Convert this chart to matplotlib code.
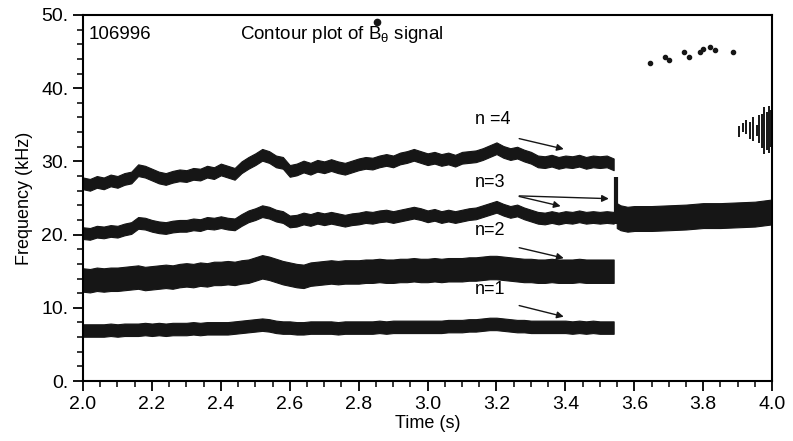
import numpy as np
import matplotlib
matplotlib.use("Agg")
import matplotlib.pyplot as plt
from matplotlib import font_manager
from matplotlib.ticker import MultipleLocator, FuncFormatter

t_band = [2.00, 2.02, 2.04, 2.06, 2.08, 2.10, 2.12, 2.14, 2.16, 2.18,
          2.20, 2.22, 2.24, 2.26, 2.28, 2.30, 2.32, 2.34, 2.36, 2.38,
          2.40, 2.42, 2.44, 2.46, 2.48, 2.50, 2.52, 2.54, 2.56, 2.58,
          2.60, 2.62, 2.64, 2.66, 2.68, 2.70, 2.72, 2.74, 2.76, 2.78,
          2.80, 2.82, 2.84, 2.86, 2.88, 2.90, 2.92, 2.94, 2.96, 2.98,
          3.00, 3.02, 3.04, 3.06, 3.08, 3.10, 3.12, 3.14, 3.16, 3.18,
          3.20, 3.22, 3.24, 3.26, 3.28, 3.30, 3.32, 3.34, 3.36, 3.38,
          3.40, 3.42, 3.44, 3.46, 3.48, 3.50, 3.52, 3.54]

f_n4 = [27.0, 26.8, 27.2, 27.0, 27.4, 27.2, 27.6, 27.8, 28.8, 28.6,
        28.2, 27.8, 27.6, 27.9, 28.1, 28.0, 28.3, 28.2, 28.6, 28.4,
        28.9, 28.6, 28.3, 29.2, 29.8, 30.3, 30.9, 30.6, 30.0, 29.8,
        28.7, 28.9, 29.3, 29.0, 29.4, 29.2, 29.5, 29.2, 29.0, 29.3,
        29.6, 29.8, 29.7, 30.0, 30.2, 30.0, 30.4, 30.6, 30.9, 30.6,
        30.3, 30.5, 30.2, 30.4, 30.1, 30.5, 30.6, 30.7, 31.0, 31.4,
        31.8, 31.3, 31.0, 31.2, 30.8, 30.5, 30.0, 29.9, 30.1, 29.8,
        30.0, 29.9, 30.1, 29.8, 30.0, 29.9, 30.0, 29.6]

f_n3 = [20.2, 20.1, 20.4, 20.3, 20.5, 20.4, 20.7, 20.9, 21.6, 21.5,
        21.2, 21.0, 20.9, 21.1, 21.2, 21.2, 21.4, 21.3, 21.6, 21.5,
        21.7, 21.5, 21.4, 22.0, 22.5, 22.8, 23.2, 23.0, 22.6, 22.4,
        21.8, 21.9, 22.2, 22.0, 22.3, 22.1, 22.3, 22.1, 21.9, 22.1,
        22.2, 22.4, 22.3, 22.5, 22.6, 22.4, 22.6, 22.8, 23.0, 22.8,
        22.5, 22.7, 22.4, 22.6, 22.4, 22.6, 22.8, 22.9, 23.2, 23.5,
        23.8, 23.4, 23.1, 23.3, 22.9, 22.6, 22.3, 22.2, 22.4, 22.2,
        22.4, 22.3, 22.5, 22.3, 22.4, 22.3, 22.4, 22.3]

f_n2 = [13.8, 13.7, 13.9, 13.8, 13.9, 13.9, 14.0, 14.1, 14.2, 14.0,
        14.1, 14.2, 14.3, 14.2, 14.4, 14.5, 14.4, 14.6, 14.5, 14.7,
        14.7, 14.8, 14.7, 14.9, 15.0, 15.3, 15.6, 15.4, 15.1, 14.8,
        14.6, 14.4, 14.3, 14.6, 14.7, 14.8, 14.9, 14.8, 14.9, 14.9,
        14.9, 15.0, 15.0, 15.1, 15.0, 15.0, 15.1, 15.1, 15.2, 15.1,
        15.1, 15.2, 15.1, 15.2, 15.2, 15.2, 15.3, 15.3, 15.4, 15.5,
        15.5, 15.4, 15.3, 15.2, 15.1, 15.1, 15.0, 15.0, 15.1, 15.0,
        15.0, 15.0, 15.1, 15.0, 15.0, 15.0, 15.0, 15.0]

f_n1 = [6.9, 6.9, 6.9, 6.9, 7.0, 6.9, 7.0, 7.0, 7.0, 7.1,
        7.0, 7.1, 7.0, 7.1, 7.1, 7.1, 7.2, 7.1, 7.2, 7.2,
        7.2, 7.2, 7.3, 7.4, 7.5, 7.6, 7.7, 7.6, 7.4, 7.3,
        7.3, 7.2, 7.2, 7.3, 7.3, 7.3, 7.3, 7.2, 7.3, 7.3,
        7.3, 7.3, 7.3, 7.4, 7.3, 7.4, 7.4, 7.4, 7.4, 7.4,
        7.4, 7.4, 7.4, 7.5, 7.5, 7.5, 7.6, 7.6, 7.7, 7.8,
        7.8, 7.7, 7.6, 7.5, 7.5, 7.4, 7.4, 7.4, 7.4, 7.4,
        7.4, 7.3, 7.4, 7.3, 7.4, 7.3, 7.3, 7.3]

# band half widths (kHz)
w_n4, w_n3, w_n2, w_n1 = 0.8, 0.8, 1.6, 0.85

# n=3 band after the drop of n=4 (3.55 s to 4.0 s)
t_late = [3.549, 3.56, 3.58, 3.60, 3.65, 3.70, 3.75, 3.80, 3.85, 3.90, 3.95, 4.00]
f_late = [22.6, 22.3, 22.1, 22.2, 22.2, 22.3, 22.4, 22.6, 22.6, 22.7, 22.8, 23.1]
w_late = 1.7

# spike at the crash
t_spike = 3.547
f_spike = (21.5, 27.9)

# scattered fragments
t_high = [3.645, 3.69, 3.70, 3.745, 3.76, 3.79, 3.80, 3.82, 3.835, 3.885]
f_high = [43.4, 44.2, 43.8, 45.0, 44.3, 45.0, 45.3, 45.6, 45.2, 44.9]
t_burst = [3.905, 3.915, 3.925, 3.935, 3.945, 3.955, 3.962, 3.97, 3.977,
           3.984, 3.99, 3.996]
f_burst_lo = [33.3, 34.0, 33.8, 33.0, 32.8, 33.5, 32.5, 31.8, 31.0,
              31.5, 31.2, 32.0]
f_burst_hi = [34.8, 35.2, 35.6, 35.4, 36.0, 35.0, 36.3, 36.5, 37.5,
              36.8, 37.6, 37.0]

# annotation labels, text positions and arrow targets
labels = ["n =4", "n=3", "n=2", "n=1"]
label_xy = [(3.137, 34.6), (3.137, 26.0), (3.137, 19.4), (3.137, 11.3)]
arrow_start = [(3.258, 33.2), (3.258, 25.3), (3.258, 18.3), (3.258, 10.4)]
arrow_end = [[(3.403, 31.6)], [(3.534, 24.9), (3.394, 23.8)],
             [(3.403, 16.7)], [(3.403, 8.7)]]


def pick_font(names):
    for name in names:
        try:
            font_manager.findfont(name, fallback_to_default=False)
            return name
        except ValueError:
            pass
    return "DejaVu Sans"


main_font = pick_font(["Liberation Sans", "Arial"])
plt.rcParams["font.family"] = main_font
plt.rcParams["mathtext.fontset"] = "custom"
plt.rcParams["mathtext.rm"] = main_font
plt.rcParams["mathtext.it"] = main_font

ink = "#161616"
fig = plt.figure(figsize=(7.93, 4.41), dpi=100)
ax = fig.add_axes([0.1047, 0.136, 0.869, 0.830])

t = np.array(t_band)
for f, w in [(f_n4, w_n4), (f_n3, w_n3), (f_n2, w_n2), (f_n1, w_n1)]:
    f = np.array(f)
    ax.fill_between(t, f - w, f + w, color=ink, linewidth=0.8, edgecolor=ink)

tl = np.array(t_late)
fl = np.array(f_late)
ax.fill_between(tl, fl - w_late, fl + w_late, color=ink,
                linewidth=0.8, edgecolor=ink)
ax.vlines(t_spike, f_spike[0], f_spike[1], color=ink, linewidth=3)

ax.plot(t_high, f_high, linestyle="none", marker="o", markersize=3,
        color=ink)
ax.vlines(t_burst, f_burst_lo, f_burst_hi, color=ink, linewidth=1.4)

for lab, xy, st, ends in zip(labels, label_xy, arrow_start, arrow_end):
    ax.text(xy[0], xy[1], lab, fontsize=13, ha="left", va="bottom")
    for e in ends:
        ax.annotate("", xy=e, xytext=st,
                    arrowprops=dict(arrowstyle="-|>", color=ink,
                                    lw=1.0, mutation_scale=10))

ax.set_xlim(2.0, 4.0)
ax.set_ylim(0, 50)

ax.text(2.015, 47.3, "106996", fontsize=13.5, ha="left", va="center")
ax.text(2.457, 47.3, r"Contour plot of B$_\theta$ signal",
        fontsize=13.5, ha="left", va="center")
# bold dot above the B (time derivative)
ax.plot([2.852], [49.0], marker="o", markersize=4.5, color=ink,
        linestyle="none", clip_on=False)

ax.xaxis.set_major_locator(MultipleLocator(0.2))
ax.xaxis.set_minor_locator(MultipleLocator(0.05))
ax.yaxis.set_major_locator(MultipleLocator(10))
ax.yaxis.set_minor_locator(MultipleLocator(2))
ax.xaxis.set_major_formatter(FuncFormatter(lambda v, p: f"{v:.1f}"))
ax.yaxis.set_major_formatter(FuncFormatter(lambda v, p: f"{v:.0f}."))
ax.tick_params(which="major", direction="out", length=7, width=1.3,
               labelsize=14)
ax.tick_params(which="minor", direction="out", length=4, width=1.1)
for s in ax.spines.values():
    s.set_linewidth(1.5)

ax.set_xlabel("Time (s)", fontsize=13, labelpad=2)
ax.set_ylabel("Frequency (kHz)", fontsize=13, labelpad=6)

fig.savefig("out.png", dpi=100)
